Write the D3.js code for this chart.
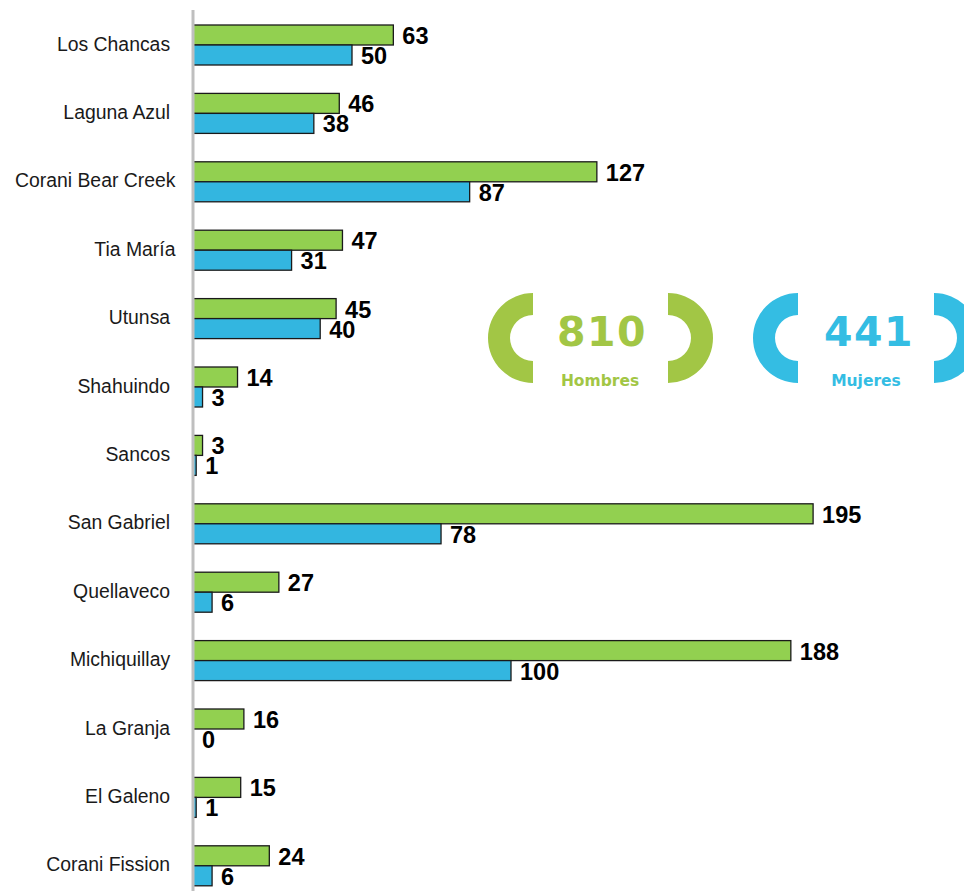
<!DOCTYPE html>
<html>
<head>
<meta charset="utf-8">
<script src="https://cdn.jsdelivr.net/npm/d3@7"></script>
<style>
  html, body { margin: 0; padding: 0; background: #ffffff; }
  svg { display: block; }
  .lbl { font-family: "Liberation Sans", Arimo, Arial, sans-serif; }
  .badge { font-family: "DejaVu Sans", sans-serif; font-weight: bold; }
</style>
</head>
<body>
<svg id="chart" width="964" height="891"></svg>
<script>
const categories = ["Los Chancas ", "Laguna Azul ", "Corani Bear Creek", "Tia María", "Utunsa ", "Shahuindo ", "Sancos ", "San Gabriel ", "Quellaveco ", "Michiquillay ", "La Granja ", "El Galeno ", "Corani Fission "];
const hombres = [63, 46, 127, 47, 45, 14, 3, 195, 27, 188, 16, 15, 24];
const mujeres = [50, 38, 87, 31, 40, 3, 1, 78, 6, 100, 0, 1, 6];
const seriesNames = ["Hombres", "Mujeres"];

const barColors = ["#92d050", "#33b6e0"];
const badgeColors = ["#a2c645", "#34bde3"];

const svg = d3.select("#chart");

const x = d3.scaleLinear().domain([0, 200]).range([193, 829]);
const y = d3.scaleBand().domain(categories).range([10.8, 900]).padding(0);
const sub = d3.scaleBand().domain(seriesNames).range([-20, 20]).padding(0);

const rows = categories.map((c, i) => ({ cat: c, vals: [hombres[i], mujeres[i]] }));

const g = svg.selectAll("g.row").data(rows).join("g")
  .attr("class", "row")
  .attr("transform", d => `translate(0,${y(d.cat) + y.bandwidth() / 2})`);

seriesNames.forEach((s, si) => {
  g.append("rect")
    .attr("x", x(0))
    .attr("y", sub(s))
    .attr("width", d => x(d.vals[si]) - x(0))
    .attr("height", sub.bandwidth())
    .attr("fill", barColors[si])
    .attr("stroke", "#1a1a1a")
    .attr("stroke-width", 1.3);

  g.append("text")
    .attr("class", "lbl")
    .attr("x", d => x(d.vals[si]) + 9)
    .attr("y", sub(s) + sub.bandwidth() / 2 + 9)
    .style("font-weight", "bold")
    .style("font-size", "23.5px")
    .attr("fill", "#000")
    .text(d => d.vals[si]);
});

g.append("text")
  .attr("class", "lbl")
  .attr("x", 175.5)
  .attr("y", 5.5)
  .attr("text-anchor", "end")
  .attr("xml:space", "preserve")
  .style("white-space", "pre")
  .style("font-size", "19.4px")
  .attr("fill", "#1a1a1a")
  .text(d => d.cat);

// vertical axis line
svg.append("line")
  .attr("x1", x(0)).attr("x2", x(0))
  .attr("y1", 10).attr("y2", 891)
  .attr("stroke", "#bfbfbf")
  .attr("stroke-width", 3);

// totals badges
const totals = [d3.sum(hombres), d3.sum(mujeres)];
const badges = [
  { left: 533, right: 668, tx: 602, lx: 600 },
  { left: 798, right: 934, tx: 869, lx: 866 }
];
const arcL = d3.arc().innerRadius(23).outerRadius(45).startAngle(-Math.PI).endAngle(0);
const arcR = d3.arc().innerRadius(23).outerRadius(45).startAngle(0).endAngle(Math.PI);

badges.forEach((b, i) => {
  const bg = svg.append("g");
  bg.append("path").attr("d", arcL()).attr("transform", `translate(${b.left},338)`).attr("fill", badgeColors[i]);
  bg.append("path").attr("d", arcR()).attr("transform", `translate(${b.right},338)`).attr("fill", badgeColors[i]);
  bg.append("text")
    .attr("class", "badge")
    .attr("x", b.tx).attr("y", 346)
    .attr("text-anchor", "middle")
    .style("font-size", "41px")
    .style("letter-spacing", "1.5px")
    .attr("fill", badgeColors[i])
    .text(totals[i]);
  bg.append("text")
    .attr("class", "badge")
    .attr("x", b.lx).attr("y", 386)
    .attr("text-anchor", "middle")
    .style("font-size", "15.5px")
    .attr("fill", badgeColors[i])
    .text(seriesNames[i]);
});
</script>
</body>
</html>
